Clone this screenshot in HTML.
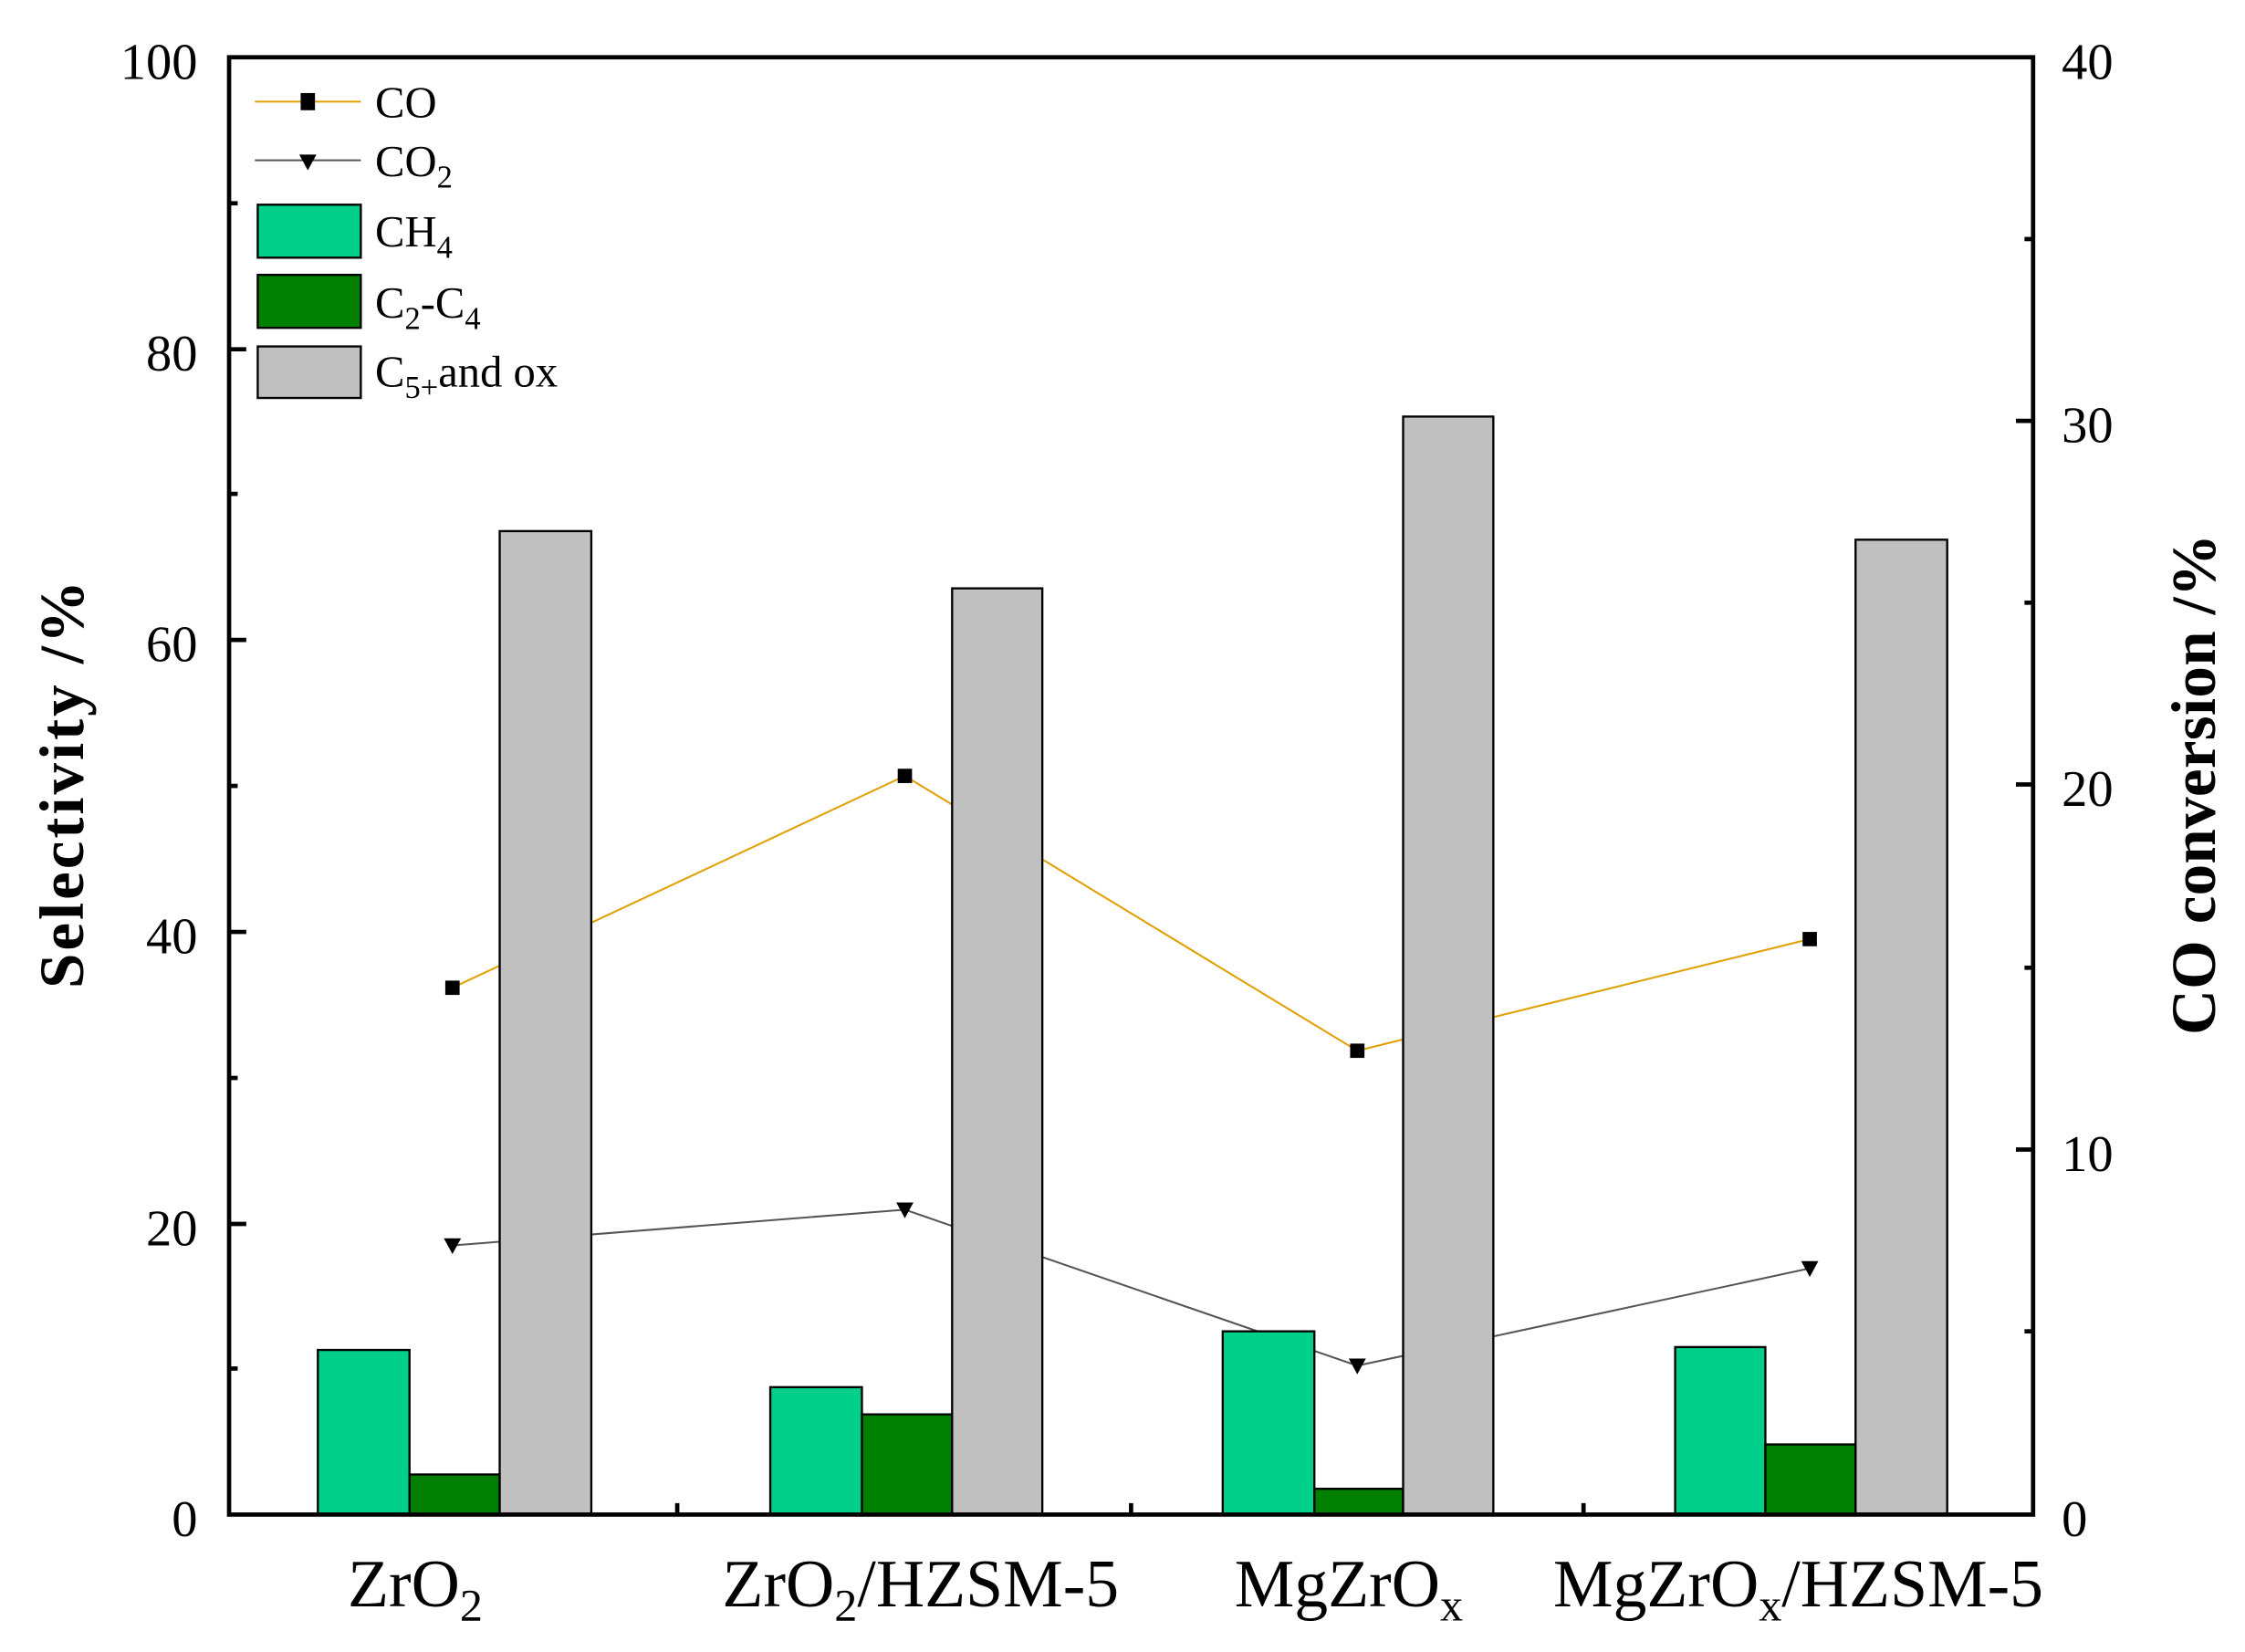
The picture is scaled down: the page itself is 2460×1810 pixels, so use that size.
<!DOCTYPE html>
<html><head><meta charset="utf-8"><style>
html,body{margin:0;padding:0;background:#fff;}
svg{display:block;}
text{font-family:"Liberation Serif",serif;fill:#000;}
</style></head><body>
<svg width="2460" height="1810" viewBox="0 0 1568 1154" preserveAspectRatio="none">
<polyline points="316,690 632,542 948,734 1264,656" fill="none" stroke="#e0a000" stroke-width="1.3"/>
<polyline points="316,870 632,845 948,954 1264,886" fill="none" stroke="#555" stroke-width="1.3"/>
<g stroke="#000" stroke-width="1.5">
<rect x="222" y="943" width="64" height="115" fill="#00d08a"/>
<rect x="286" y="1030" width="63" height="28" fill="#007f00"/>
<rect x="349" y="371" width="64" height="687" fill="#c0c0c0"/>
<rect x="538" y="969" width="64" height="89" fill="#00d08a"/>
<rect x="602" y="988" width="63" height="70" fill="#007f00"/>
<rect x="665" y="411" width="63" height="647" fill="#c0c0c0"/>
<rect x="854" y="930" width="64" height="128" fill="#00d08a"/>
<rect x="918" y="1040" width="62" height="18" fill="#007f00"/>
<rect x="980" y="291" width="63" height="767" fill="#c0c0c0"/>
<rect x="1170" y="941" width="63" height="117" fill="#00d08a"/>
<rect x="1233" y="1009" width="63" height="49" fill="#007f00"/>
<rect x="1296" y="377" width="64" height="681" fill="#c0c0c0"/>
</g>
<g fill="#000">
<rect x="311" y="685" width="10" height="10"/><rect x="627" y="537" width="10" height="10"/>
<rect x="943" y="729" width="10" height="10"/><rect x="1259" y="651" width="10" height="10"/>
<polygon points="310,865 322,865 316,876"/><polygon points="626,840 638,840 632,851"/>
<polygon points="942,949 954,949 948,960"/><polygon points="1258,881 1270,881 1264,892"/>
</g>
<rect x="160" y="40" width="1260" height="1018" fill="none" stroke="#000" stroke-width="3"/>
<g stroke="#000" stroke-width="3">
<line x1="160" y1="244" x2="172" y2="244"/><line x1="160" y1="447" x2="172" y2="447"/>
<line x1="160" y1="651" x2="172" y2="651"/><line x1="160" y1="855" x2="172" y2="855"/>
<line x1="160" y1="142" x2="166" y2="142"/><line x1="160" y1="345" x2="166" y2="345"/>
<line x1="160" y1="549" x2="166" y2="549"/><line x1="160" y1="753" x2="166" y2="753"/>
<line x1="160" y1="956" x2="166" y2="956"/>
<line x1="1420" y1="294" x2="1408" y2="294"/><line x1="1420" y1="548" x2="1408" y2="548"/>
<line x1="1420" y1="803" x2="1408" y2="803"/>
<line x1="1420" y1="167" x2="1414" y2="167"/><line x1="1420" y1="421" x2="1414" y2="421"/>
<line x1="1420" y1="676" x2="1414" y2="676"/><line x1="1420" y1="930" x2="1414" y2="930"/>
<line x1="473" y1="1058" x2="473" y2="1050"/><line x1="790" y1="1058" x2="790" y2="1050"/>
<line x1="1106" y1="1058" x2="1106" y2="1050"/>
</g>
<g font-size="36" text-anchor="end">
<text x="138" y="55">100</text><text x="138" y="259">80</text><text x="138" y="462">60</text>
<text x="138" y="666">40</text><text x="138" y="870">20</text><text x="138" y="1073">0</text>
</g>
<g font-size="36">
<text x="1440" y="55">40</text><text x="1440" y="309">30</text><text x="1440" y="563">20</text>
<text x="1440" y="818">10</text><text x="1440" y="1073">0</text>
</g>
<g font-size="47" text-anchor="middle">
<text x="290" y="1122">ZrO<tspan font-size="32" dy="10">2</tspan></text>
<text x="643" y="1122">ZrO<tspan font-size="32" dy="10">2</tspan><tspan dy="-10">/HZSM-5</tspan></text>
<text x="942" y="1122">MgZrO<tspan font-size="32" dy="10">x</tspan></text>
<text x="1256" y="1122">MgZrO<tspan font-size="32" dy="10">x</tspan><tspan dy="-10">/HZSM-5</tspan></text>
</g>
<text font-size="44" font-weight="bold" text-anchor="middle" textLength="285" transform="translate(58,548) rotate(-90)">Selectivity /%</text>
<text font-size="44" font-weight="bold" text-anchor="middle" textLength="350" transform="translate(1547,548) rotate(-90)">CO conversion /%</text>
<line x1="178" y1="71" x2="252" y2="71" stroke="#e0a000" stroke-width="1.3"/>
<rect x="210" y="65" width="10" height="12" fill="#000"/>
<line x1="178" y1="112" x2="252" y2="112" stroke="#555" stroke-width="1.3"/>
<polygon points="209,108 221,108 215,119" fill="#000"/>
<rect x="180" y="143" width="72" height="37" fill="#00d08a" stroke="#000" stroke-width="1.5"/>
<rect x="180" y="192" width="72" height="37" fill="#007f00" stroke="#000" stroke-width="1.5"/>
<rect x="180" y="242" width="72" height="36" fill="#c0c0c0" stroke="#000" stroke-width="1.5"/>
<g font-size="31">
<text x="262" y="82">CO</text>
<text x="262" y="123">CO<tspan font-size="22" dy="8">2</tspan></text>
<text x="262" y="172">CH<tspan font-size="22" dy="8">4</tspan></text>
<text x="262" y="222">C<tspan font-size="22" dy="8">2</tspan><tspan dy="-8">-C</tspan><tspan font-size="22" dy="8">4</tspan></text>
<text x="262" y="270">C<tspan font-size="22" dy="8">5+</tspan><tspan dy="-8">and ox</tspan></text>
</g>
</svg>
</body></html>
